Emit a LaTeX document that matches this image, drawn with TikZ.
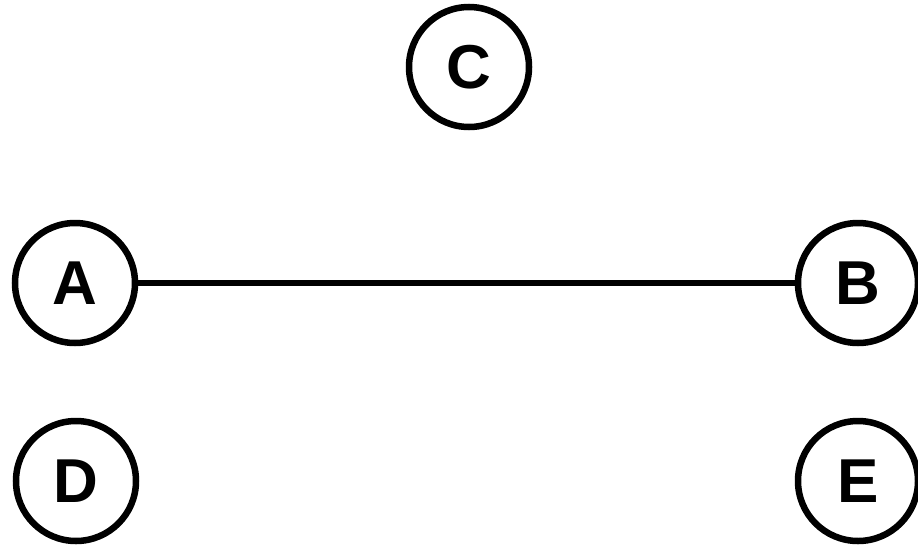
\documentclass[tikz,border=0pt]{standalone}
\usepackage{fontspec}
\setmainfont{Liberation Sans}
\begin{document}
\begin{tikzpicture}[x=1pt,y=-1pt,
  vert/.style={circle,draw=black,line width=6.5pt,minimum size=120pt,inner sep=0pt,
    font=\fontsize{62}{62}\selectfont\bfseries},
  edge/.style={draw=black,line width=6.5pt}]
\useasboundingbox (0,0) rectangle (918,546);
\node[vert] (C) at (469,67) {C};
\node[vert] (A) at (75,283) {A};
\node[vert] (B) at (858,283) {B};
\node[vert] (D) at (76,481) {D};
\node[vert] (E) at (858,481) {E};
\draw[edge] (A) -- (B);
\end{tikzpicture}
\end{document}
